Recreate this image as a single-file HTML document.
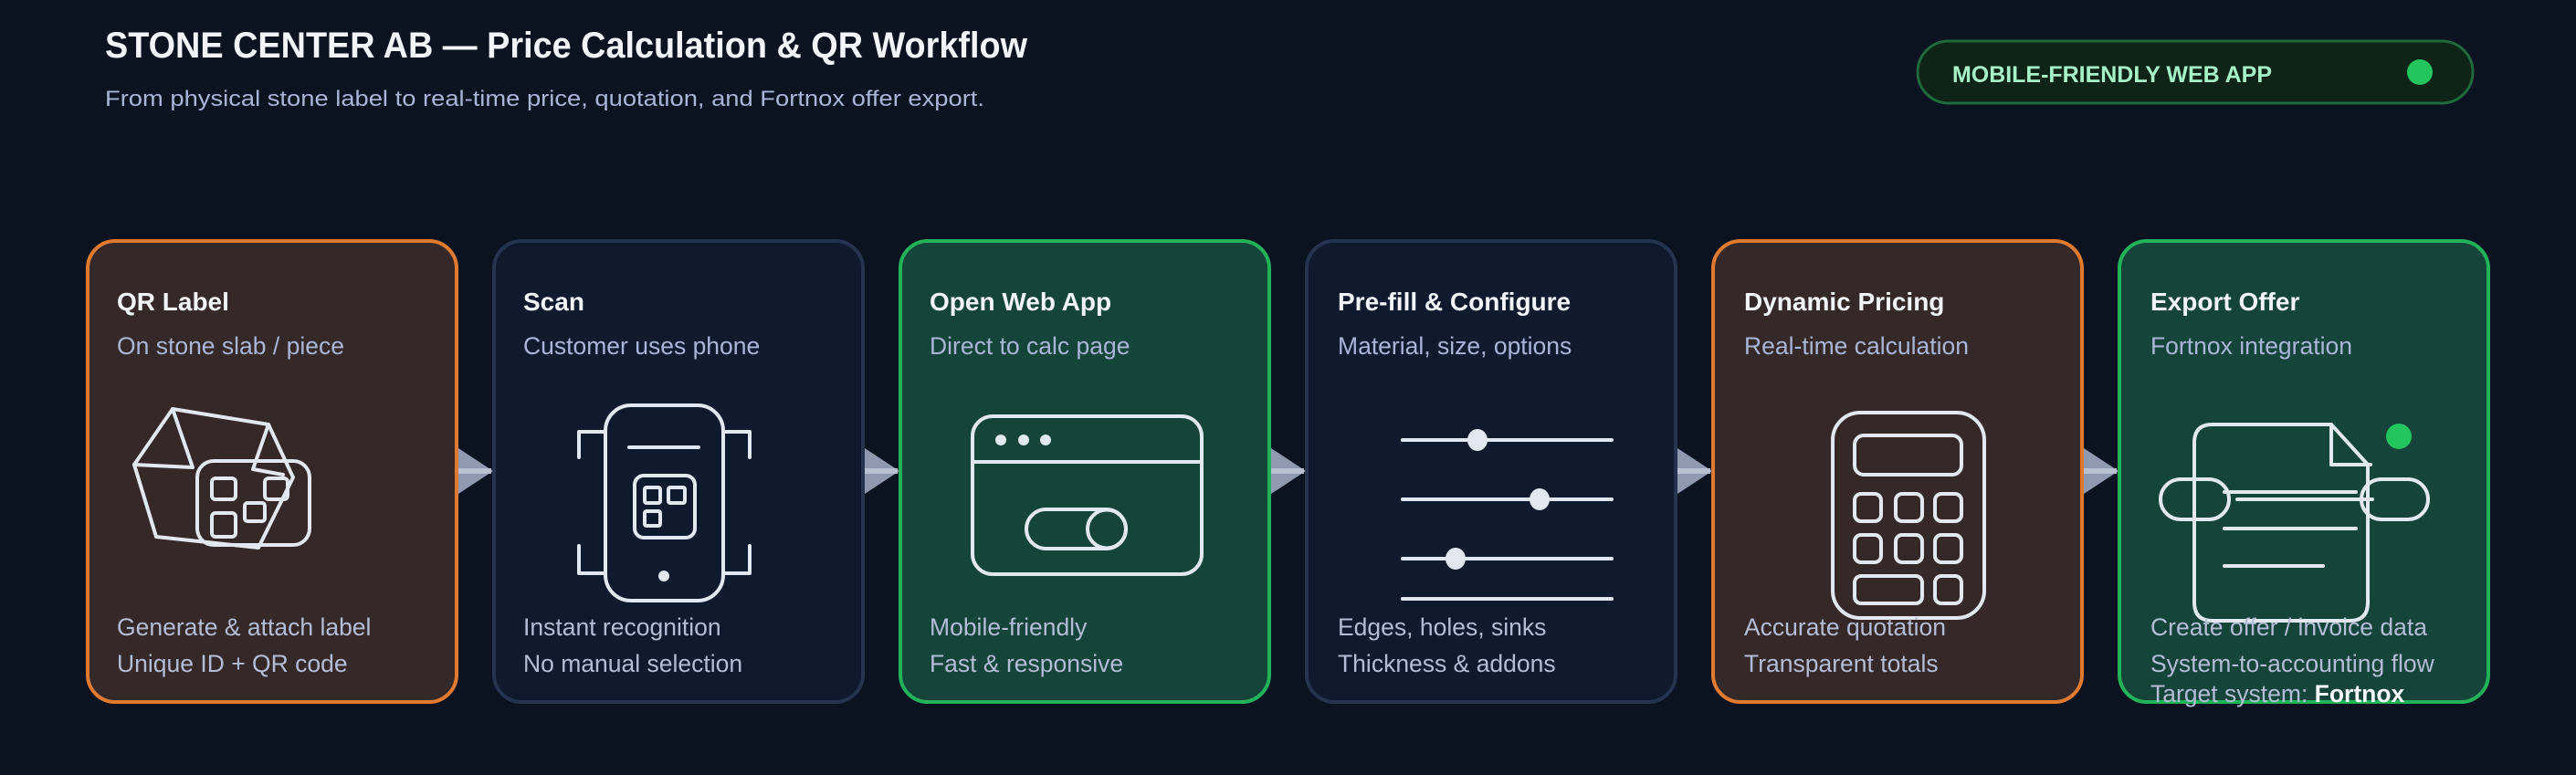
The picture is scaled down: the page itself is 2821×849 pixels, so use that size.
<!DOCTYPE html>
<html><head><meta charset="utf-8"><style>
html,body{margin:0;padding:0;background:#0b1220;}
svg{display:block;}
text{font-family:"Liberation Sans",sans-serif;}
.t{fill:#f1f5f9;font-size:28px;font-weight:bold;}
.s{fill:#a9b6d6;font-size:26.5px;}
.b{fill:#b3bdd6;font-size:26.5px;}
.ic{fill:none;stroke:#e2e8f0;stroke-width:4;stroke-linejoin:round;stroke-linecap:round;}
</style></head><body>
<svg width="2821" height="849" viewBox="0 0 2821 849" xmlns="http://www.w3.org/2000/svg">
<rect width="2821" height="849" fill="#0b1220"/>
<text x="115" y="63" fill="#f1f5f9" font-size="40" font-weight="bold" textLength="1010" lengthAdjust="spacingAndGlyphs">STONE CENTER AB — Price Calculation &amp; QR Workflow</text>
<text x="115" y="116" fill="#a9b6d8" font-size="24" textLength="963" lengthAdjust="spacingAndGlyphs">From physical stone label to real-time price, quotation, and Fortnox offer export.</text>
<rect x="2100" y="45" width="608" height="68" rx="34" fill="#0d2417" stroke="#1f6a3c" stroke-width="3"/>
<text x="2138" y="90" fill="#a7f3c8" font-size="25" font-weight="bold" textLength="350" lengthAdjust="spacingAndGlyphs">MOBILE-FRIENDLY WEB APP</text>
<circle cx="2650" cy="79" r="14" fill="#22c55e"/>

<!-- cards -->
<rect x="96" y="264" width="404" height="505" rx="30" fill="#352828" stroke="#e07a2e" stroke-width="4"/>
<rect x="541" y="264" width="404" height="505" rx="30" fill="#0f1a2e" stroke="#25334f" stroke-width="4"/>
<rect x="986" y="264" width="404" height="505" rx="30" fill="#15443a" stroke="#22b35a" stroke-width="4"/>
<rect x="1431" y="264" width="404" height="505" rx="30" fill="#0f1a2e" stroke="#25334f" stroke-width="4"/>
<rect x="1876" y="264" width="404" height="505" rx="30" fill="#352828" stroke="#e07a2e" stroke-width="4"/>
<rect x="2321" y="264" width="404" height="505" rx="30" fill="#15443a" stroke="#22b35a" stroke-width="4"/>

<!-- arrows -->
<g fill="#8f99b0">
<polygon points="502,491 540,516 502,541"/>
<polygon points="947,491 985,516 947,541"/>
<polygon points="1392,491 1430,516 1392,541"/>
<polygon points="1837,491 1875,516 1837,541"/>
<polygon points="2282,491 2320,516 2282,541"/>
</g>
<g fill="#b8c0d2">
<rect x="502" y="513" width="36" height="6"/>
<rect x="947" y="513" width="36" height="6"/>
<rect x="1392" y="513" width="36" height="6"/>
<rect x="1837" y="513" width="36" height="6"/>
<rect x="2282" y="513" width="36" height="6"/>
</g>

<!-- texts -->
<text class="t" x="128" y="340">QR Label</text>
<text class="s" x="128" y="388">On stone slab / piece</text>
<text class="b" x="128" y="696">Generate &amp; attach label</text>
<text class="b" x="128" y="736">Unique ID + QR code</text>

<text class="t" x="573" y="340">Scan</text>
<text class="s" x="573" y="388">Customer uses phone</text>
<text class="b" x="573" y="696">Instant recognition</text>
<text class="b" x="573" y="736">No manual selection</text>

<text class="t" x="1018" y="340">Open Web App</text>
<text class="s" x="1018" y="388">Direct to calc page</text>
<text class="b" x="1018" y="696">Mobile-friendly</text>
<text class="b" x="1018" y="736">Fast &amp; responsive</text>

<text class="t" x="1465" y="340">Pre-fill &amp; Configure</text>
<text class="s" x="1465" y="388">Material, size, options</text>
<text class="b" x="1465" y="696">Edges, holes, sinks</text>
<text class="b" x="1465" y="736">Thickness &amp; addons</text>

<text class="t" x="1910" y="340">Dynamic Pricing</text>
<text class="s" x="1910" y="388">Real-time calculation</text>

<text class="t" x="2355" y="340">Export Offer</text>
<text class="s" x="2355" y="388">Fortnox integration</text>

<!-- icons -->
<g class="ic">
<polygon points="189,448 294,465 321,523 283,600 171,588 147,509"/>
<polyline points="189,448 211,512 147,509"/>
<polyline points="294,465 277,514 310,520"/>
<rect x="216" y="505" width="123" height="92" rx="18"/>
<rect x="232" y="524" width="26" height="23" rx="4"/>
<rect x="232" y="562" width="26" height="26" rx="4"/>
<rect x="290" y="524" width="25" height="23" rx="4"/>
<rect x="268" y="551" width="22" height="20" rx="3"/>
<rect x="663" y="444" width="129" height="214" rx="28"/>
<line x1="689" y1="490" x2="765" y2="490"/>
<rect x="695" y="521" width="66" height="68" rx="10"/>
<rect x="706" y="534" width="17" height="17" rx="2"/>
<rect x="732" y="534" width="18" height="17" rx="2"/>
<rect x="706" y="560" width="17" height="16" rx="2"/>
<polyline points="662,473 634,473 634,501"/>
<polyline points="634,598 634,628 662,628"/>
<polyline points="794,473 821,473 821,501"/>
<polyline points="821,598 821,628 794,628"/>
<rect x="1065" y="456" width="251" height="173" rx="22"/>
<line x1="1065" y1="506" x2="1316" y2="506"/>
<rect x="1124" y="558" width="109" height="43" rx="21.5"/>
<circle cx="1212" cy="579.5" r="21"/>
<line x1="1536" y1="482" x2="1765" y2="482"/>
<line x1="1536" y1="547" x2="1765" y2="547"/>
<line x1="1536" y1="612" x2="1765" y2="612"/>
<line x1="1536" y1="656" x2="1765" y2="656"/>
<rect x="2007" y="452" width="166" height="225" rx="30"/>
<rect x="2031" y="477" width="117" height="43" rx="10"/>
<rect x="2031" y="541" width="29" height="30" rx="7"/>
<rect x="2076" y="541" width="29" height="30" rx="7"/>
<rect x="2119" y="541" width="29" height="30" rx="7"/>
<rect x="2031" y="586" width="29" height="30" rx="7"/>
<rect x="2076" y="586" width="29" height="30" rx="7"/>
<rect x="2119" y="586" width="29" height="30" rx="7"/>
<rect x="2031" y="631" width="74" height="30" rx="7"/>
<rect x="2119" y="631" width="29" height="30" rx="7"/>
<path d="M2553,465 H2423 Q2403,465 2403,485 V660 Q2403,680 2423,680 H2573 Q2593,680 2593,660 V509 Z"/>
<polyline points="2553,465 2553,509 2596,509"/>
<rect x="2366" y="525" width="75" height="44" rx="22"/>
<rect x="2586" y="525" width="73" height="44" rx="22"/>
<line x1="2436" y1="539" x2="2580" y2="539"/>
<line x1="2450" y1="547" x2="2598" y2="547"/>
<line x1="2436" y1="579" x2="2580" y2="579"/>
<line x1="2436" y1="620" x2="2544" y2="620"/>
</g>
<g fill="#e2e8f0">
<circle cx="1096" cy="482" r="6"/><circle cx="1121" cy="482" r="6"/><circle cx="1145" cy="482" r="6"/>
<circle cx="727" cy="631" r="6"/>
<ellipse cx="1618" cy="482" rx="11" ry="12"/>
<ellipse cx="1686" cy="547" rx="11" ry="12"/>
<ellipse cx="1594" cy="612" rx="11" ry="12"/>
</g>
<circle cx="2627" cy="478" r="14" fill="#22c55e"/>

<text class="b" x="1910" y="696">Accurate quotation</text>
<text class="b" x="1910" y="736">Transparent totals</text>
<text class="b" x="2355" y="696">Create offer / invoice data</text>
<text class="b" x="2355" y="736">System-to-accounting flow</text>
<text class="b" x="2355" y="769">Target system: <tspan fill="#f8fafc" font-weight="bold">Fortnox</tspan></text>
</svg>
</body></html>
